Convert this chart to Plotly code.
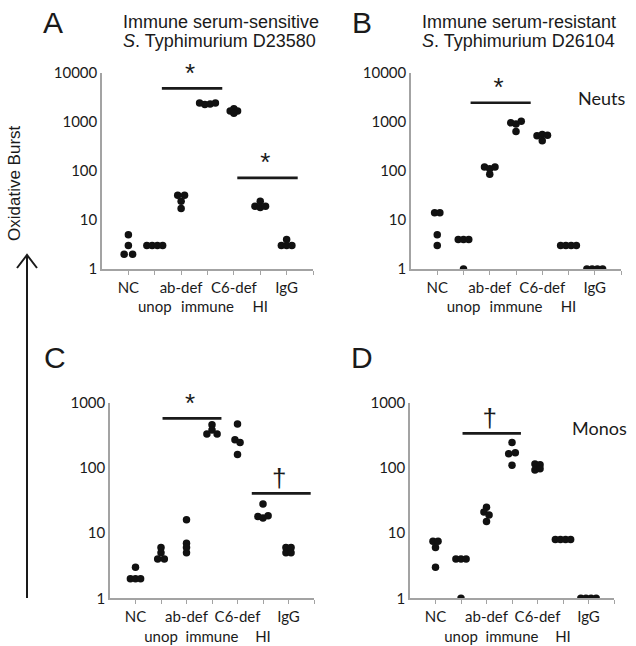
import plotly.graph_objects as go

W, H = 636, 646

CATEGORIES = ["NC", "unop", "ab-def", "immune", "C6-def", "HI", "IgG"]
# staggered tick labels: odd categories on first row, even on second
TICK_TEXT = ["NC", "<br>unop", "ab-def", "<br>immune", "C6-def", "<br>HI", "IgG", ""]

# ---- Panel A: Neuts, immune serum-sensitive D23580
A_VALUES = [[5, 3, 2, 2], [3, 3, 3, 3], [32, 32, 24, 17], [2400, 2250, 2300, 2400],
            [1850, 1650, 1650, 1500], [24, 19, 18, 19], [4, 3, 3, 3]]
# ---- Panel B: Neuts, immune serum-resistant D26104
B_VALUES = [[14, 14, 5, 3], [4, 4, 4, 1], [120, 110, 120, 85], [950, 900, 1030, 630],
            [520, 550, 530, 410], [3, 3, 3, 3], [1, 1, 1, 1]]
# ---- Panel C: Monos, D23580
C_VALUES = [[3, 2, 2, 2], [6, 5, 4, 4], [16, 7, 6, 5], [460, 330, 380, 330],
            [470, 270, 245, 160], [28, 18, 17, 18.5], [6, 6, 5, 5]]
# ---- Panel D: Monos, D26104
D_VALUES = [[7.5, 7.5, 6, 3], [4, 4, 4, 1], [25, 21, 19, 15], [245, 165, 170, 110],
            [115, 112, 93, 97], [8, 8, 8, 8], [1, 1, 1, 1]]

Y_TICKS_AB = [1, 10, 100, 1000, 10000]
Y_TICKS_CD = [1, 10, 100, 1000]

# significance bars: (start category, end category, level, label)
A_SIG = [(2.27, 4.56, 4800, "*"), (5.13, 7.42, 72, "*")]
B_SIG = [(2.27, 4.56, 2450, "*")]
C_SIG = [(2.06, 4.37, 575, "*"), (5.56, 7.87, 40.7, "†")]
D_SIG = [(2.06, 4.35, 338, "†")]

# horizontal spread of overlapping dots (style only, category units)
ROW4 = [-0.3, -0.1, 0.1, 0.3]
A_SPREAD = [[0, 0, -0.16, 0.16], ROW4, [-0.13, 0.13, 0, 0], ROW4,
            [0, -0.14, 0.14, 0], [0, -0.2, 0, 0.2], [0, -0.2, 0, 0.2]]
B_SPREAD = [[-0.1, 0.1, 0, 0], [-0.2, 0, 0.2, 0], [-0.2, 0, 0.2, 0], [-0.2, 0, 0.2, 0],
            [-0.2, 0, 0.2, 0], ROW4, ROW4]
C_SPREAD = [[0, -0.2, 0, 0.2], [0, 0, -0.13, 0.13], [0, 0, 0, 0], [0, -0.2, 0, 0.2],
            [0, -0.1, 0.1, 0], [0, -0.2, 0, 0.2], [-0.1, 0.1, -0.1, 0.1]]
D_SPREAD = [[-0.1, 0.1, 0, 0], [-0.2, 0, 0.2, 0], [0, -0.1, 0.1, 0], [0, -0.13, 0.13, 0],
            [-0.1, 0.1, -0.1, 0.1], ROW4, ROW4]

AXIS_GREY = "#a3a3a3"
TXT = "#1a1a1a"
TICKFONT = dict(family="Lato, Open Sans, sans-serif", size=15, color=TXT)
ARIAL = "Liberation Sans, Arial, sans-serif"

fig = go.Figure()

panels = [
    ("x", "y", A_VALUES, A_SPREAD, A_SIG),
    ("x2", "y2", B_VALUES, B_SPREAD, B_SIG),
    ("x3", "y3", C_VALUES, C_SPREAD, C_SIG),
    ("x4", "y4", D_VALUES, D_SPREAD, D_SIG),
]

for xa, ya, values, spread, sig in panels:
    xs, ys = [], []
    for i, (vals, offs) in enumerate(zip(values, spread)):
        for v, o in zip(vals, offs):
            xs.append(i + 1 + o)
            ys.append(v)
    fig.add_trace(go.Scatter(x=xs, y=ys, mode="markers", xaxis=xa, yaxis=ya,
                             marker=dict(size=7.5, color="#111111"),
                             showlegend=False, hoverinfo="skip"))
    for x0, x1, lvl, lab in sig:
        fig.add_trace(go.Scatter(x=[x0, x1], y=[lvl, lvl], mode="lines",
                                 xaxis=xa, yaxis=ya, line=dict(color="#1a1a1a", width=2.6),
                                 showlegend=False, hoverinfo="skip", cliponaxis=False))
        fig.add_trace(go.Scatter(x=[(x0 + x1) / 2 - 0.08], y=[lvl], mode="text", text=[lab],
                                 textposition="top center", xaxis=xa, yaxis=ya,
                                 textfont=dict(family=ARIAL, size=26, color="#1a1a1a"),
                                 showlegend=False, hoverinfo="skip", cliponaxis=False))


def px_x(a, b):
    return [a / W, b / W]


def px_y(top, bottom):
    return [1 - bottom / H, 1 - top / H]


def xaxis(dom, anchor):
    return dict(domain=dom, range=[0, 8], tickvals=list(range(1, 9)), ticktext=TICK_TEXT,
                ticks="outside", ticklen=4, tickwidth=1.2, tickcolor=AXIS_GREY,
                showline=True, linecolor=AXIS_GREY, linewidth=1.5, showgrid=False,
                zeroline=False, anchor=anchor, tickfont=TICKFONT, tickangle=0,
                automargin=False)


def yaxis(dom, anchor, top, ticks):
    return dict(domain=dom, type="log", range=[0, top], tickvals=ticks,
                ticktext=[str(t) for t in ticks], ticks="", showline=True,
                linecolor=AXIS_GREY, linewidth=1.5, showgrid=False, zeroline=False,
                anchor=anchor, tickfont=TICKFONT, automargin=False)


annotations = []


def note(text, x, y, size, family=ARIAL, xanchor="center", yanchor="middle", angle=0):
    annotations.append(dict(text=text, x=x / W, y=1 - y / H, xref="paper", yref="paper",
                            showarrow=False, font=dict(family=family, size=size, color=TXT),
                            xanchor=xanchor, yanchor=yanchor, textangle=angle))


note("A", 53, 23, 30)
note("B", 362, 23, 30)
note("C", 55, 357, 30)
note("D", 362, 357, 30)
note("Immune serum-sensitive", 121, 22, 18, xanchor="left")
note("<i>S</i>. Typhimurium D23580", 121, 41, 18, xanchor="left")
note("Immune serum-resistant", 420, 22, 18, xanchor="left")
note("<i>S</i>. Typhimurium D26104", 420, 41, 18, xanchor="left")
note("Neuts", 601, 98, 18, family="Lato, Open Sans, sans-serif")
note("Monos", 599, 428, 18, family="Lato, Open Sans, sans-serif")
note("Oxidative Burst", 15, 183, 17, angle=-90)

shapes = [
    dict(type="line", xref="paper", yref="paper", x0=27 / W, x1=27 / W,
         y0=1 - 598 / H, y1=1 - 256 / H, line=dict(color="#1a1a1a", width=2)),
    dict(type="path", xref="paper", yref="paper",
         path=f"M {17 / W} {1 - 268 / H} L {27 / W} {1 - 255 / H} L {37 / W} {1 - 268 / H}",
         line=dict(color="#1a1a1a", width=2)),
]

fig.update_layout(
    width=W, height=H, margin=dict(l=0, r=0, t=0, b=0, autoexpand=False),
    paper_bgcolor="white", plot_bgcolor="white",
    xaxis=xaxis(px_x(102, 313), "y"),
    yaxis=yaxis(px_y(72.7, 269), "x", 4, Y_TICKS_AB),
    xaxis2=xaxis(px_x(411, 621), "y2"),
    yaxis2=yaxis(px_y(72.7, 269), "x2", 4, Y_TICKS_AB),
    xaxis3=xaxis(px_x(110, 314), "y3"),
    yaxis3=yaxis(px_y(402.7, 598.3), "x3", 3, Y_TICKS_CD),
    xaxis4=xaxis(px_x(410, 614), "y4"),
    yaxis4=yaxis(px_y(402.7, 598.3), "x4", 3, Y_TICKS_CD),
    annotations=annotations, shapes=shapes, showlegend=False,
)

fig.write_html("out.html", config={"displayModeBar": False},
               post_script="document.body.style.margin='0';document.body.style.overflow='hidden';")
